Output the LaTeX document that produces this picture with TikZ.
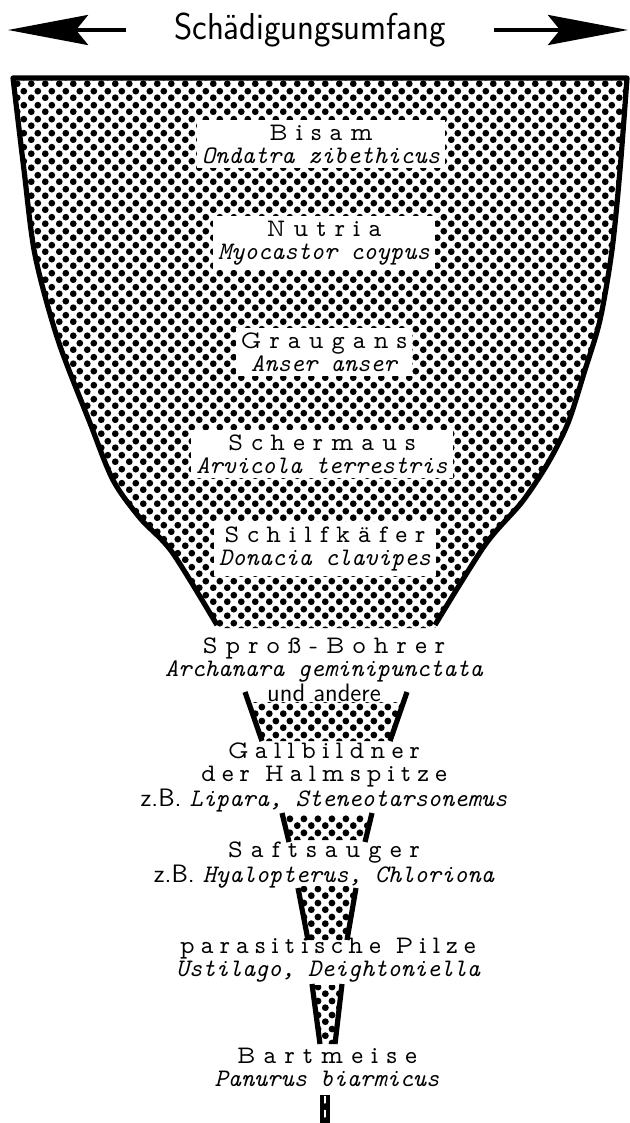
\documentclass[tikz,border=0pt]{standalone}
\usepackage{fontspec}
\usepackage{graphicx}
\usetikzlibrary{arrows.meta,patterns.meta}
\newfontfamily\propfont{lmmonoprop10-regular.otf}
\newcommand{\artname}[2][32]{{\propfont\addfontfeature{LetterSpace=#1}#2}}
\newcommand{\latname}[1]{{\ttfamily\itshape #1}}
\tikzdeclarepattern{
  name=stipple,
  type=uncolored,
  bounding box={(0pt,0pt) and (7pt,7pt)},
  tile size={(7pt,7pt)},
  code={
    \pgfpathcircle{\pgfpoint{1.75pt}{1.75pt}}{1.8pt}
    \pgfpathcircle{\pgfpoint{5.25pt}{5.25pt}}{1.8pt}
    \pgfusepath{fill}
  }
}

\begin{document}
\begin{tikzpicture}[x=0.5pt,y=-0.5pt,
  wall/.style={line width=2.6pt,line join=round},
  bigarrow/.style={line width=2pt,-{Stealth[length=40pt,width=15pt,inset=6pt]}},
  box/.style={fill=white,inner xsep=2.5pt,inner ysep=2.5pt,align=center,font=\fontsize{12.6}{11.5}\selectfont},
  lbl/.style={inner sep=0pt,align=center,font=\fontsize{12.6}{11.5}\selectfont}]
\useasboundingbox (0,0) rectangle (630,1123);

% Kopfzeile
\node[inner xsep=24pt,font=\fontsize{18.7}{20}\selectfont\sffamily] (titel) at (310,30) {\scalebox{0.935}[1]{Schädigungsumfang}};
\coordinate (links) at (8,30);
\coordinate (rechts) at (628,30);
\draw[bigarrow] (titel.west) -- (links);
\draw[bigarrow] (titel.east) -- (rechts);

% grosser Trichter
\fill[pattern=stipple]
  plot[smooth,tension=.5] coordinates {(217,628) (172,552) (140,518) (113,480) (90,423) (58,340) (35,255) (24,170) (13,78)}
  -- plot[smooth,tension=.5] coordinates {(627,78) (620,170) (612,250) (600,320) (585,370) (568,423) (548,463) (522,502) (485,545) (435,628)}
  -- cycle;
\draw[wall]
  plot[smooth,tension=.5] coordinates {(217,625) (172,552) (140,518) (113,480) (90,423) (58,340) (35,255) (24,170) (13,78)}
  -- plot[smooth,tension=.5] coordinates {(627,78) (620,170) (612,250) (600,320) (585,370) (568,423) (548,463) (522,502) (485,545) (435,625)};

\node[box] (bisam) at (321,144) {\artname{Bisam}\\\latname{Ondatra zibethicus}};
\node[box] (nutria) at (324,243) {\artname{Nutria}\\\latname{Myocastor coypus}};
\node[box] (graugans) at (324,352) {\artname{Graugans}\\\latname{Anser anser}};
\node[box] (schermaus) at (322,454) {\artname{Schermaus}\\\latname{Arvicola terrestris}};
\node[box] (schilfkaefer) at (325,549) {\artname{Schilfkäfer}\\\latname{Donacia clavipes}};

% kleine Trichter
\node[lbl] (sprossbohrer) at (324,670) {\artname{Sproß-Bohrer}\\\latname{Archanara geminipunctata}\\{\sffamily und andere}};
\fill[pattern=stipple] (248,702) -- (404,702) -- (390,741) -- (262,741) -- cycle;
\draw[wall] (245,692) -- (262,741);
\draw[wall] (407,692) -- (390,741);

\node[lbl] (gallbildner) at (324,777) {\artname[25]{Gallbildner}\\\artname[24]{der Halmspitze}\\{\sffamily z.B.} \latname{Lipara, Steneotarsonemus}};
\fill[pattern=stipple] (282,815) -- (372,815) -- (365,840) -- (288,840) -- cycle;
\draw[wall] (282,813) -- (289,842);
\draw[wall] (372,813) -- (365,842);

\node[lbl] (saftsauger) at (324,865) {\artname{Saftsauger}\\{\sffamily z.B.} \latname{Hyalopterus, Chloriona}};
\fill[pattern=stipple] (298,886) -- (356,886) -- (347,940) -- (308,940) -- cycle;
\draw[wall] (298,888) -- (308,940);
\draw[wall] (356,888) -- (347,940);

\node[lbl] (pilze) at (328,960) {\artname[24]{parasitische Pilze}\\\latname{Ustilago, Deightoniella}};
\fill[pattern=stipple] (312,985) -- (342,985) -- (335,1044) -- (320,1044) -- cycle;
\draw[wall] (312,984) -- (320,1044);
\draw[wall] (342,984) -- (335,1044);

\node[lbl] (bartmeise) at (327,1067) {\artname{Bartmeise}\\\latname{Panurus biarmicus}};
\fill[pattern=stipple] (320,1095) -- (329,1095) -- (328,1123) -- (321,1123) -- cycle;
\draw[line width=2pt] (321.5,1095) -- (321.5,1123);
\draw[line width=2pt] (327.5,1095) -- (327.5,1123);
\end{tikzpicture}
\end{document}
